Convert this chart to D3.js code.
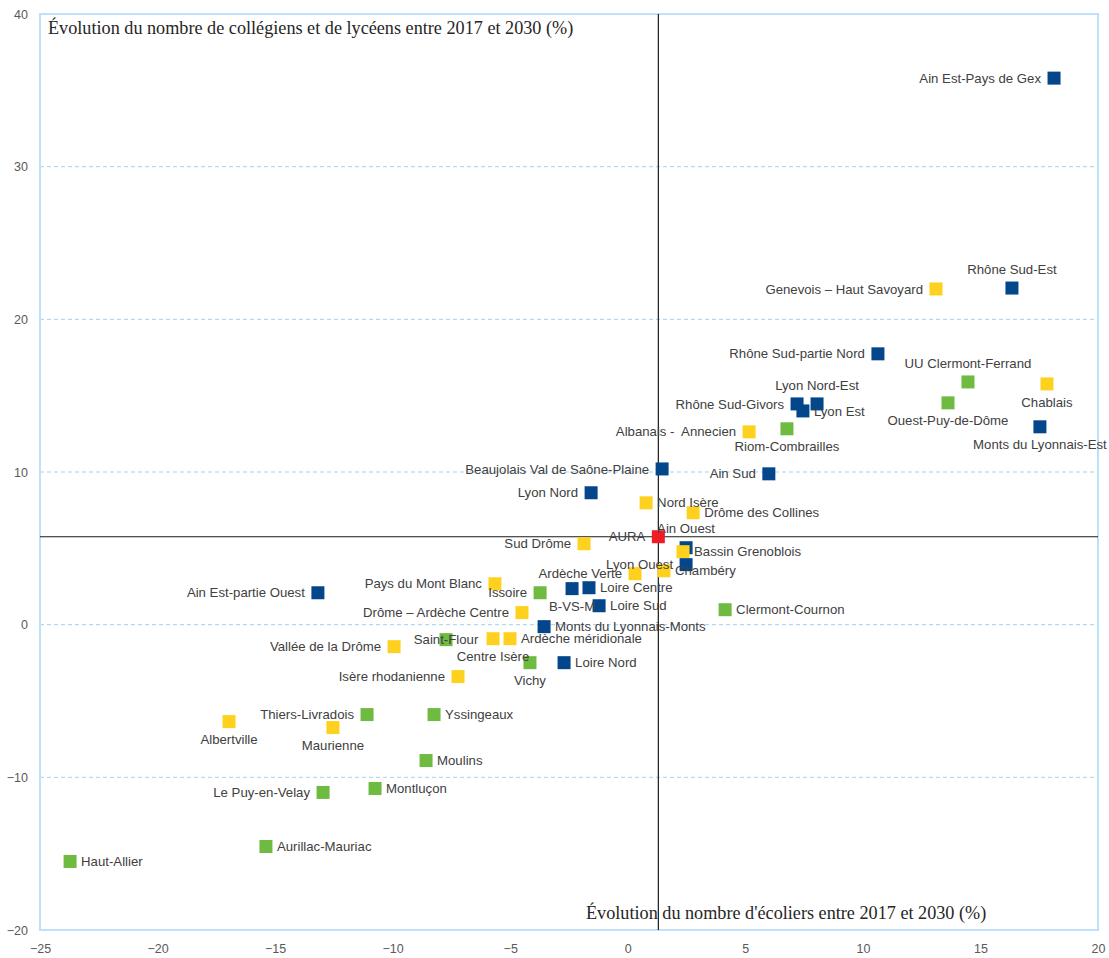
<!DOCTYPE html>
<html>
<head>
<meta charset="utf-8">
<script src="https://cdn.jsdelivr.net/npm/d3@7"></script>
<style>
  body { margin: 0; background: #fff; }
  svg { display: block; }
</style>
</head>
<body>
<figure style="margin:0"></figure>
<script>
const width = 1109
const height = 958

// Bassins (names), evolution of pupils 2017-2030 in %
const names = [
  'Ain Est-Pays de Gex', 'Rhône Sud-Est', 'Genevois – Haut Savoyard', 'Rhône Sud-partie Nord',
  'UU Clermont-Ferrand', 'Chablais', 'Ouest-Puy-de-Dôme', 'Lyon Nord-Est', 'Rhône Sud-Givors',
  'Lyon Est', 'Monts du Lyonnais-Est', 'Riom-Combrailles', 'Albanais -  Annecien', 'Ain Sud',
  'Beaujolais Val de Saône-Plaine', 'Lyon Nord', 'Nord Isère', 'Drôme des Collines', 'Ain Ouest',
  'Bassin Grenoblois', 'Lyon Ouest', 'Chambéry', 'Sud Drôme', 'Ardèche Verte', 'Loire Centre',
  'B-VS-M', 'Loire Sud', 'Issoire', 'Pays du Mont Blanc', 'Ain Est-partie Ouest',
  'Drôme – Ardèche Centre', 'Monts du Lyonnais-Monts', 'Clermont-Cournon', 'Saint-Flour',
  'Centre Isère', 'Ardèche méridionale', 'Vichy', 'Loire Nord', 'Vallée de la Drôme',
  'Isère rhodanienne', 'Thiers-Livradois', 'Yssingeaux', 'Albertville', 'Maurienne', 'Moulins',
  'Le Puy-en-Velay', 'Montluçon', 'Aurillac-Mauriac', 'Haut-Allier', 'AURA'
]
// écoliers (x)
const ecoliers = [
  18.13, 16.34, 13.11, 10.64, 14.47, 17.83, 13.62, 8.05, 7.2,
  7.45, 17.53, 6.77, 5.16, 6.0, 1.46, -1.56, 0.78, 2.78, 2.48,
  2.35, 2.48, 1.54, -1.86, 0.31, -1.65, -2.37, -1.22, -3.73, -5.65, -13.18,
  -4.5, -3.56, 4.14, -7.73, -5.73, -5.01, -4.16, -2.71, -9.94,
  -7.22, -11.09, -8.24, -16.96, -12.54, -8.58, -12.96, -10.75, -15.39, -23.72, 1.3
]
// collégiens et lycéens (y)
const secondaire = [
  35.8, 22.05, 21.99, 17.74, 15.9, 15.77, 14.53, 14.46, 14.46,
  14.0, 12.96, 12.83, 12.63, 9.88, 10.2, 8.64, 7.98, 7.33, 5.04,
  4.78, 3.93, 3.53, 5.3, 3.34, 2.42, 2.36, 1.24, 2.09, 2.68, 2.09,
  0.79, -0.13, 0.98, -0.98, -0.92, -0.92, -2.49, -2.49, -1.44,
  -3.4, -5.89, -5.89, -6.35, -6.74, -8.9, -10.99, -10.73, -14.53, -15.51, 5.76
]
// académie of each bassin
const academies = [
  'Lyon', 'Lyon', 'Grenoble', 'Lyon', 'Clermont', 'Grenoble', 'Clermont', 'Lyon', 'Lyon',
  'Lyon', 'Lyon', 'Clermont', 'Grenoble', 'Lyon', 'Lyon', 'Lyon', 'Grenoble', 'Grenoble', 'Lyon',
  'Grenoble', 'Lyon', 'Grenoble', 'Grenoble', 'Grenoble', 'Lyon', 'Lyon', 'Lyon', 'Clermont',
  'Grenoble', 'Lyon', 'Grenoble', 'Lyon', 'Clermont', 'Clermont', 'Grenoble', 'Grenoble',
  'Clermont', 'Lyon', 'Grenoble', 'Grenoble', 'Clermont', 'Clermont', 'Grenoble', 'Grenoble',
  'Clermont', 'Clermont', 'Clermont', 'Clermont', 'Clermont', 'AURA'
]
// data label placement (like the spreadsheet label option)
const labelPlacement = [
  'left', 'above', 'left', 'left', 'above', 'below', 'below', 'above', 'left',
  'right', 'below', 'below', 'left', 'left', 'left', 'left', 'right', 'right', 'above',
  'right', 'left', 'right', 'left', 'left', 'right', 'below', 'right', 'left', 'left', 'left',
  'left', 'right', 'right', 'center', 'below', 'right', 'below', 'right', 'left',
  'left', 'left', 'right', 'below', 'below', 'right', 'left', 'right', 'right', 'right', 'left'
]
const yTicks = [-20, -10, 0, 10, 20, 30, 40]
const xTicks = [-25, -20, -15, -10, -5, 0, 5, 10, 15, 20]

const data = names.map((n, i) => ({
  name: n, x: ecoliers[i], y: secondaire[i], group: academies[i], pos: labelPlacement[i]
}))
const aura = data.find(d => d.group === 'AURA')

const svg = d3.select('figure').append('svg')
  .attr('width', width)
  .attr('height', height)

const x = d3.scaleLinear().domain([-25, 20]).range([40, 1098])
const y = d3.scaleLinear().domain([-20, 40]).range([930, 14])

const color = d3.scaleOrdinal()
  .domain(['Lyon', 'Grenoble', 'Clermont', 'AURA'])
  .range(['#03468a', '#ffd11f', '#6fbb41', '#ee1c25'])

// horizontal dashed gridlines
svg.append('g')
  .selectAll('line')
  .data(yTicks.filter(t => t > -20 && t < 40))
  .join('line')
    .attr('x1', x(-25))
    .attr('x2', x(20))
    .attr('y1', d => y(d))
    .attr('y2', d => y(d))
    .attr('stroke', '#9fd2f5')
    .attr('stroke-width', 1)
    .attr('stroke-dasharray', '4,3')

// plot frame
svg.append('rect')
  .attr('x', x(-25))
  .attr('y', y(40))
  .attr('width', x(20) - x(-25))
  .attr('height', y(-20) - y(40))
  .attr('fill', 'none')
  .attr('stroke', '#bfe0fb')
  .attr('stroke-width', 2)

// axes crossing at AURA
svg.append('line')
  .attr('x1', x(aura.x)).attr('x2', x(aura.x))
  .attr('y1', y(40)).attr('y2', y(-20))
  .attr('stroke', '#1a1a1a').attr('stroke-width', 1.2)
svg.append('line')
  .attr('x1', x(-25)).attr('x2', x(20))
  .attr('y1', y(aura.y)).attr('y2', y(aura.y))
  .attr('stroke', '#1a1a1a').attr('stroke-width', 1.2)

// tick labels
const yAxis = svg.append('g')
  .attr('transform', `translate(${x(-25) - 12},0)`)
  .call(d3.axisLeft(y).tickValues(yTicks).tickSize(0).tickPadding(0))
const xAxis = svg.append('g')
  .attr('transform', `translate(0,${y(-20) + 11})`)
  .call(d3.axisBottom(x).tickValues(xTicks).tickSize(0).tickPadding(3))
;[xAxis, yAxis].forEach(a => {
  a.select('.domain').remove()
  a.selectAll('text')
    .attr('fill', '#595959')
    .style('font-family', '"Liberation Sans", Arial, sans-serif')
    .style('font-size', '12.5px')
})

// axis titles
svg.append('text')
  .attr('x', 48)
  .attr('y', 34)
  .text('Évolution du nombre de collégiens et de lycéens entre 2017 et 2030 (%)')
  .style('font-family', '"Liberation Serif", "DejaVu Serif", serif')
  .style('font-size', '18.2px')
  .attr('fill', '#262626')
svg.append('text')
  .attr('x', 586)
  .attr('y', 919)
  .text("Évolution du nombre d'écoliers entre 2017 et 2030 (%)")
  .style('font-family', '"Liberation Serif", "DejaVu Serif", serif')
  .style('font-size', '18.2px')
  .attr('fill', '#262626')

// points
const size = 13
svg.append('g')
  .selectAll('rect')
  .data(data)
  .join('rect')
    .attr('x', d => x(d.x) - size / 2)
    .attr('y', d => y(d.y) - size / 2)
    .attr('width', size)
    .attr('height', size)
    .attr('fill', d => color(d.group))

// labels
const offset = {
  left: { dx: -13, dy: 0, anchor: 'end' },
  right: { dx: 11, dy: 0, anchor: 'start' },
  above: { dx: 0, dy: -19, anchor: 'middle' },
  below: { dx: 0, dy: 18, anchor: 'middle' },
  center: { dx: 0, dy: 0, anchor: 'middle' }
}
svg.append('g')
  .selectAll('text')
  .data(data)
  .join('text')
    .attr('x', d => x(d.x) + offset[d.pos].dx)
    .attr('y', d => y(d.y) + offset[d.pos].dy)
    .attr('dy', '0.35em')
    .attr('text-anchor', d => offset[d.pos].anchor)
    .text(d => d.name)
    .style('white-space', 'pre')
    .style('font-family', '"Liberation Sans", Arial, sans-serif')
    .style('font-size', '13.2px')
    .attr('fill', '#404040')
</script>
</body>
</html>
